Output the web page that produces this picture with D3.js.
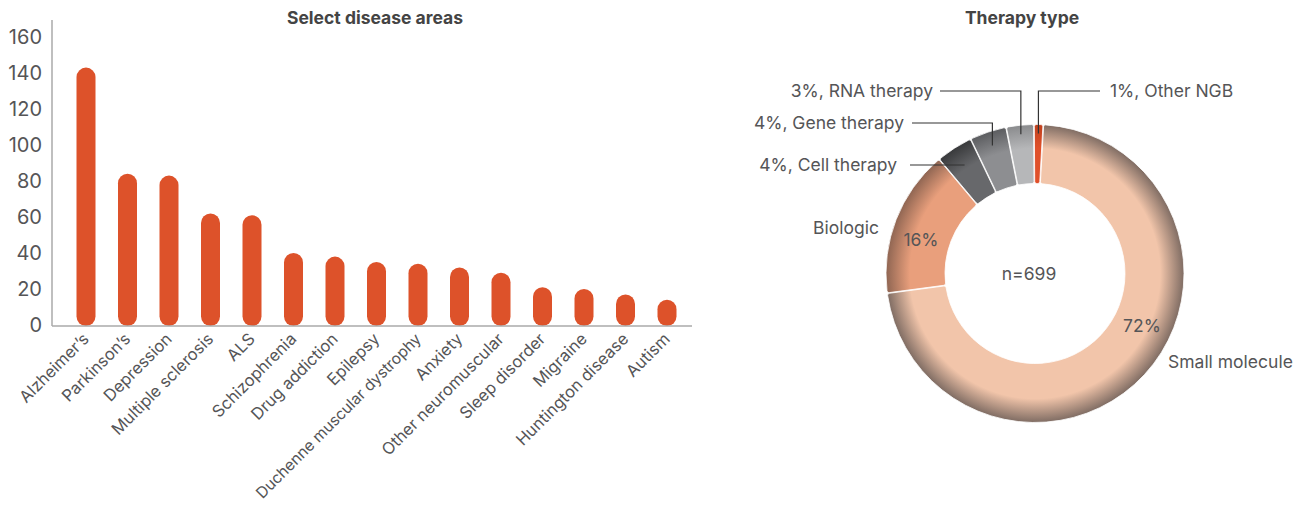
<!DOCTYPE html>
<html><head><meta charset="utf-8">
<script src="https://cdn.jsdelivr.net/npm/d3@7"></script>
<style>
html,body{margin:0;padding:0;background:#fff;}
svg text{font-family:Inter,"Noto Sans",sans-serif;}
</style></head>
<body><svg id="c" width="1304" height="506"></svg>
<script>
const diseases = ["Alzheimer’s","Parkinson’s","Depression","Multiple sclerosis","ALS","Schizophrenia","Drug addiction","Epilepsy","Duchenne muscular dystrophy","Anxiety","Other neuromuscular","Sleep disorder","Migraine","Huntington disease","Autism"];
const diseaseCounts = [143,84,83,62,61,40,38,35,34,32,29,21,20,17,14];
const yTicks = [0,20,40,60,80,100,120,140,160];
const therapyTypes = ["Small molecule","Biologic","Cell therapy","Gene therapy","RNA therapy","Other NGB"];
const therapyShares = [72,16,4,4,3,1];
const therapyN = "n=699";

const svg = d3.select("#c");
const txt = "#555557";
const fs = 17.5;
const H = 506;

// ---------- Bar chart ----------
const x = d3.scaleBand().domain(diseases).range([65.25, 687.75]);
const y = d3.scaleLinear().domain([0,160]).range([325,37]);
const g1 = svg.append("g");
g1.append("text").attr("x",375).attr("y",24).attr("text-anchor","middle")
  .attr("font-size",17.5).attr("font-weight","bold").attr("fill","#444").text("Select disease areas");

const yAxis = g1.append("g").attr("transform","translate(52,0)")
  .call(d3.axisLeft(y).tickValues(yTicks).tickSize(0).tickPadding(10));
yAxis.select(".domain").remove();
yAxis.selectAll("text").attr("font-size",20).attr("fill",txt).attr("font-family","Inter,sans-serif");
g1.append("line").attr("x1",52).attr("x2",52).attr("y1",20).attr("y2",326).attr("stroke","#aaa").attr("stroke-width",1.5);

const bw = 19;
g1.selectAll("rect.bar").data(diseases).join("rect").attr("class","bar")
  .attr("x",d=>x(d)+x.bandwidth()/2-bw/2).attr("width",bw)
  .attr("y",(d,i)=>y(diseaseCounts[i])).attr("height",(d,i)=>y(0)-y(diseaseCounts[i])+1)
  .attr("rx",bw/2).attr("fill","#dd522a");

g1.append("line").attr("x1",52).attr("x2",692).attr("y1",326).attr("y2",326).attr("stroke","#aaa").attr("stroke-width",1.5);

const xAxis = g1.append("g").attr("transform","translate(0,326)")
  .call(d3.axisBottom(x).tickSize(0).tickPadding(0));
xAxis.select(".domain").remove();
xAxis.selectAll("text").attr("font-size",16.5).attr("fill",txt).attr("font-family","Inter,sans-serif")
  .attr("text-anchor","end").attr("dy","0").attr("y",0)
  .attr("transform","translate(4,14) rotate(-45)")
  .each(function(){
    // shrink a label slightly if it would run past the bottom edge
    const el = this;
    let size = 16.5;
    for (let k=0;k<10;k++){
      const r = el.getBoundingClientRect();
      if (r.bottom <= H-2) break;
      size -= 0.3;
      d3.select(el).attr("font-size",size);
    }
  });

// ---------- Donut ----------
const cx = 1035, cy = 273.5, rO = 149, rI = 90;
const g2 = svg.append("g");
g2.append("text").attr("x",1022).attr("y",24).attr("text-anchor","middle")
  .attr("font-size",17.5).attr("font-weight","bold").attr("fill","#444").text("Therapy type");

const base = ["#f2c5aa","#e99f7c","#67686b","#8d8e91","#b6b7b9","#e0502a"];
const dark = ["#7f6c63","#8f6552","#38393b","#5b5c5f","#8a8b8d","#c0401c"];
const defs = svg.append("defs");
therapyTypes.forEach((t,i)=>{
  const gr = defs.append("radialGradient").attr("id","gr"+i).attr("gradientUnits","userSpaceOnUse")
    .attr("cx",0).attr("cy",0).attr("r",rO);
  gr.append("stop").attr("offset",0).attr("stop-color",base[i]);
  gr.append("stop").attr("offset",0.84).attr("stop-color",base[i]);
  gr.append("stop").attr("offset",1).attr("stop-color",dark[i]);
});

const off = 3.2*Math.PI/180;
const pie = d3.pie().sort(null).startAngle(off).endAngle(off+2*Math.PI);
const arcs = pie(therapyShares);
const arc = d3.arc().innerRadius(rI).outerRadius(rO).cornerRadius(2).padAngle(0.004);
const dg = g2.append("g").attr("transform",`translate(${cx},${cy})`);
dg.selectAll("path").data(arcs).join("path").attr("d",arc)
  .attr("fill",(d,i)=>`url(#gr${i})`).attr("stroke","#fff").attr("stroke-width",0.8);

dg.append("text").attr("x",-6).attr("y",6).attr("text-anchor","middle").attr("font-size",fs).attr("fill",txt).text(therapyN);

// in-ring percent labels
function polar(a,r){return [Math.sin(a)*r,-Math.cos(a)*r];}
function along(k,f){return arcs[k].startAngle+(arcs[k].endAngle-arcs[k].startAngle)*f;}
const p0 = polar(along(0,0.435), 119);
dg.append("text").attr("x",p0[0]).attr("y",p0[1]).attr("dy","0.35em").attr("text-anchor","middle")
  .attr("font-size",fs).attr("fill",txt).text(therapyShares[0]+"%");
const p1 = polar(along(1,0.42), 119);
dg.append("text").attr("x",p1[0]).attr("y",p1[1]).attr("dy","0.35em").attr("text-anchor","middle")
  .attr("font-size",fs).attr("fill",txt).text(therapyShares[1]+"%");

// outer name labels
svg.append("text").attr("x",1168).attr("y",368).attr("font-size",fs).attr("fill",txt).text(therapyTypes[0]);
svg.append("text").attr("x",879).attr("y",234).attr("text-anchor","end").attr("font-size",fs).attr("fill",txt).text(therapyTypes[1]);

// leader labels
const leaders = [
  {i:2, r:130, ly:165, tx:897, lx:910, side:"left", vertical:false},
  {i:3, r:135, ly:123, tx:904, lx:912, side:"left", vertical:true},
  {i:4, r:140, ly:91, tx:933, lx:940, side:"left", vertical:true},
  {i:5, r:140, ly:91, tx:1110, lx:1100, side:"right", vertical:true}
];
leaders.forEach(L=>{
  const m = along(L.i,0.5);
  const p = polar(m, L.r);
  const px = cx+p[0], py = cy+p[1];
  const pts = L.vertical ? [[L.lx,L.ly],[px,L.ly],[px,py]] : [[L.lx,L.ly],[px,L.ly]];
  svg.append("path").attr("d",d3.line()(pts)).attr("fill","none").attr("stroke","#333").attr("stroke-width",1.2);
  svg.append("text").attr("x",L.tx).attr("y",L.ly).attr("dy","0.35em")
    .attr("text-anchor",L.side==="left"?"end":"start").attr("font-size",fs).attr("fill",txt)
    .text(therapyShares[L.i]+"%, "+therapyTypes[L.i]);
});
</script></body></html>
